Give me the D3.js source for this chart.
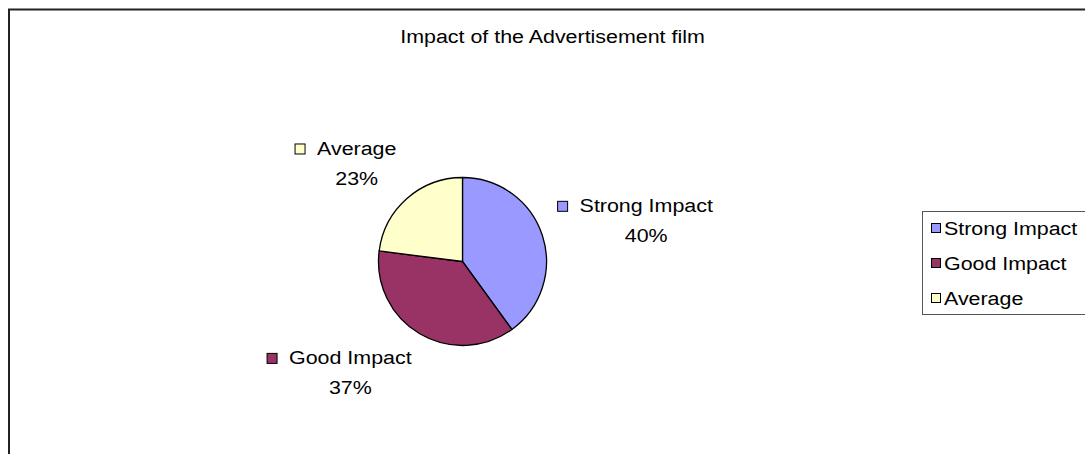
<!DOCTYPE html>
<html>
<head>
<meta charset="utf-8">
<script src="https://cdn.jsdelivr.net/npm/d3@7"></script>
<style>
  html, body { margin: 0; padding: 0; background: #fff; }
  svg { display: block; }
  text { font-family: "Liberation Sans", Arial, sans-serif; font-size: 18px; fill: #000; }
</style>
</head>
<body>
<svg id="chart" width="1085" height="454"></svg>
<script>
// Survey responses on the advertisement film
const categories = ["Strong Impact", "Good Impact", "Average"];
const values = [40, 37, 23];
const colors = ["#9999FF", "#993366", "#FFFFCC"];
const title = "Impact of the Advertisement film";

const W = 1085, H = 454;
const sx = 1.19;              // horizontal stretch of all text
const cx = 462.5, cy = 261.5, r = 84;

const svg = d3.select("#chart");

// outer chart border
svg.append("rect")
  .attr("x", 9).attr("y", 9.5)
  .attr("width", W + 20).attr("height", H + 20)
  .attr("fill", "#fff").attr("stroke", "#222").attr("stroke-width", 2);

// stretched text helper: returns the text node inside a scaled group
function stext(parent, x, y, str, anchor) {
  const g = parent.append("g").attr("transform", `translate(${x},${y}) scale(${sx},1)`);
  return g.append("text").attr("text-anchor", anchor || "start").text(str);
}

// title
stext(svg, 552.5, 43, title, "middle");

const total = d3.sum(values);
const pct = d3.format(".0%");
const color = d3.scaleOrdinal().domain(categories).range(colors);

const pie = d3.pie().sort(null).value(d => d.value);
const arcs = pie(categories.map((c, i) => ({ cat: c, value: values[i] })));
const arc = d3.arc().innerRadius(0).outerRadius(r);

const pieG = svg.append("g").attr("transform", `translate(${cx},${cy})`);
pieG.selectAll("path").data(arcs).join("path")
  .attr("d", arc)
  .attr("fill", d => color(d.data.cat))
  .attr("stroke", "#000")
  .attr("stroke-width", 1.3)
  .attr("stroke-linejoin", "round");

// data labels: key square + category on the first line, percentage below
const labelR = 100, halfH = 30, lineGap = 30, keySize = 10, keyGap = 12;
arcs.forEach(d => {
  const a = (d.startAngle + d.endAngle) / 2;
  const ax = cx + labelR * Math.sin(a);
  const ay = cy - labelR * Math.cos(a);
  const g = svg.append("g");
  const name = stext(g, 0, -lineGap / 2 + 6, d.data.cat, "middle");
  const nameW = name.node().getComputedTextLength() * sx;
  stext(g, 0, lineGap / 2 + 6, pct(d.data.value / total), "middle");
  g.append("rect")
    .attr("x", -nameW / 2 - keyGap - keySize).attr("y", -lineGap / 2 - keySize / 2)
    .attr("width", keySize).attr("height", keySize)
    .attr("fill", color(d.data.cat)).attr("stroke", "#000").attr("stroke-width", 1);
  const right = Math.sin(a) >= 0;
  const bx = right ? ax + keySize + keyGap + nameW / 2 : ax - nameW / 2;
  const by = ay - Math.cos(a) * halfH;
  g.attr("transform", `translate(${bx},${by})`);
});

// legend
const legX = 922, legY = 211, legH = 103, legStep = 35, legFirst = 17;
svg.append("rect")
  .attr("x", legX + 0.5).attr("y", legY + 0.5)
  .attr("width", 200).attr("height", legH)
  .attr("fill", "#fff").attr("stroke", "#555").attr("stroke-width", 1);
const legend = svg.append("g");
categories.forEach((c, i) => {
  const y = legY + legFirst + i * legStep;
  legend.append("rect")
    .attr("x", 931.5).attr("y", y - 4.5)
    .attr("width", 9).attr("height", 9)
    .attr("fill", color(c)).attr("stroke", "#000").attr("stroke-width", 1);
  stext(legend, 944, y + 6.5, c, "start");
});
</script>
</body>
</html>
